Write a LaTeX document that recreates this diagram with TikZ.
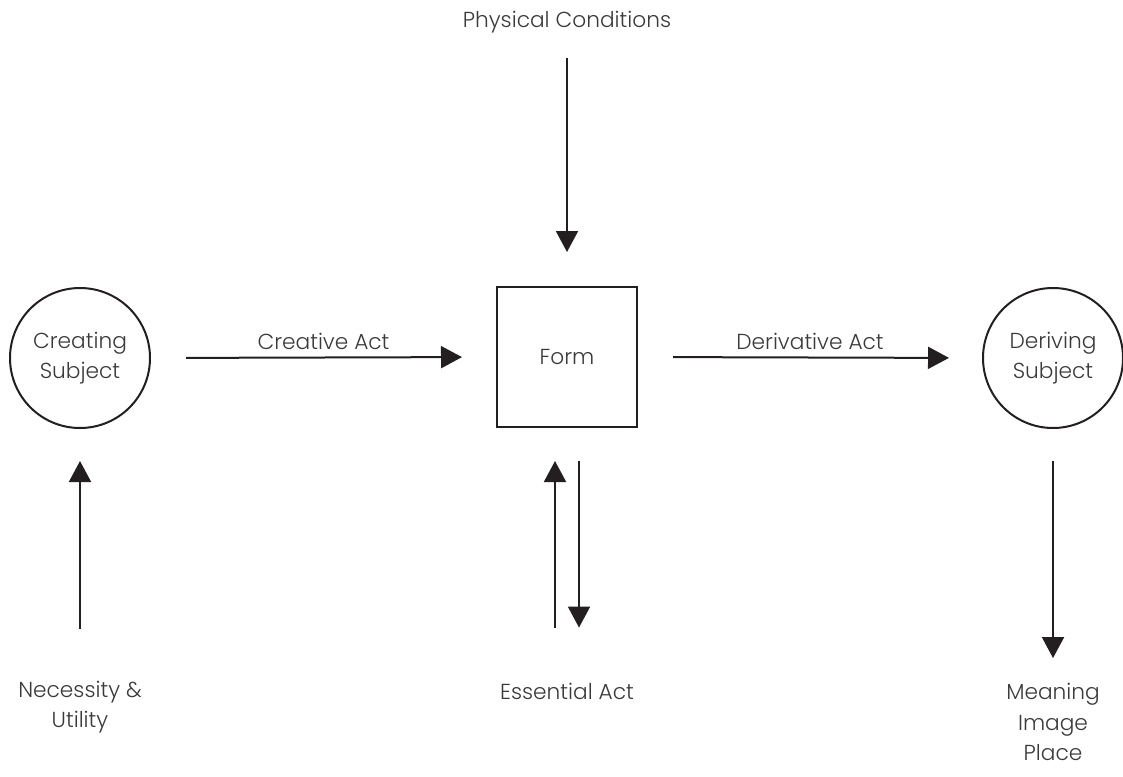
\documentclass[tikz,border=0pt]{standalone}
\usepackage{fontspec}
\setmainfont{Poppins}[UprightFont={* Light}]
\usetikzlibrary{arrows.meta}
\definecolor{ink}{HTML}{231F20}
\definecolor{txt}{HTML}{3A3A3A}
\tikzset{
  conn/.style={draw=ink, line width=2pt, -{Triangle[length=21pt,width=22pt]}},
  subj/.style={circle, draw=ink, line width=2pt, minimum size=140pt, inner sep=0pt, align=center, font=\fontsize{21.7}{30}\selectfont\color{txt}},
  formbox/.style={rectangle, draw=ink, line width=2pt, minimum size=140pt, inner sep=0pt, font=\fontsize{21.7}{30}\selectfont\color{txt}},
  lbl/.style={inner sep=0pt, align=center, font=\fontsize{21.7}{30.5}\selectfont\color{txt}}
}
\begin{document}
\begin{tikzpicture}[x=1pt,y=-1pt]
\useasboundingbox (0,0) rectangle (1123,776);
\node[subj] (cs) at (80,358) {Creating\\Subject};
\node[subj] (ds) at (1053,358) {Deriving\\Subject};
\node[formbox] (form) at (567,357) {Form};
\node[lbl] (phys) at (567,22) {Physical Conditions};
\node[lbl] (nec) at (80,707) {Necessity \&\\Utility};
\node[lbl] (ess) at (567,691) {Essential Act};
\node[lbl] (mip) at (1053,722) {Meaning\\Image\\Place};
\draw[conn, shorten <=35pt, shorten >=34pt] (cs.east) -- node[lbl, above=7pt] (ca) {Creative Act} (form.west);
\draw[conn, shorten <=35pt, shorten >=33pt] (form.east) -- node[lbl, above=7pt] (da) {Derivative Act} (ds.west);
\draw[conn, shorten <=25pt, shorten >=34pt] (phys.south) -- (form.north);
\draw[conn, shorten <=52pt, shorten >=32pt] (nec.north) -- (cs.south);
\draw[conn, shorten <=55pt, shorten >=33pt] ([xshift=-12pt]ess.north) -- ([xshift=-12pt]form.south);
\draw[conn, shorten <=33pt, shorten >=55pt] ([xshift=12pt]form.south) -- ([xshift=12pt]ess.north);
\draw[conn, shorten <=32pt, shorten >=25pt] (ds.south) -- (mip.north);
\end{tikzpicture}
\end{document}
